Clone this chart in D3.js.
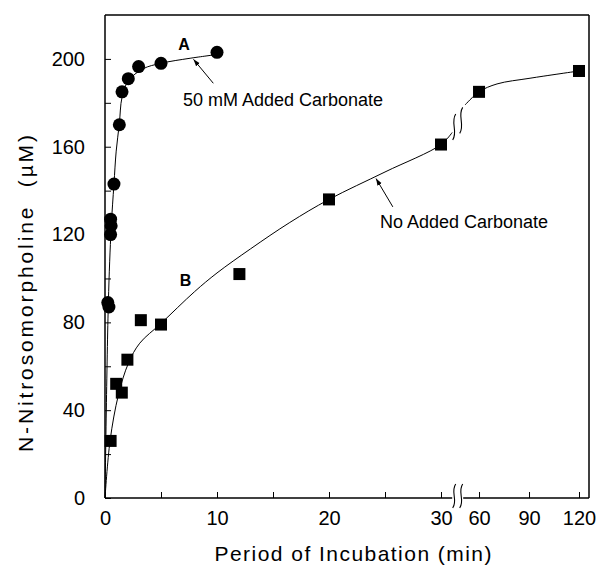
<!DOCTYPE html>
<html>
<head>
<meta charset="utf-8">
<script src="https://cdn.jsdelivr.net/npm/d3@7"></script>
<style>
  body { margin: 0; background: white; }
  text { font-family: "Liberation Sans", Arial, Helvetica, sans-serif; fill: black; }
</style>
</head>
<body>
<svg id="chart" width="597" height="565"></svg>
<script>
// curve A: 50 mM added carbonate (circles)
var timeA = [0.25, 0.35, 0.5, 0.55, 0.5, 0.8, 1.28, 1.52, 2.08, 3, 5, 10];
var concA = [89, 87, 127, 124, 120, 143, 170, 185, 191, 196.5, 198, 203];

// curve B: no added carbonate (squares)
var timeB = [0.5, 1, 1.5, 2, 3.2, 5, 12, 20, 30, 60, 120];
var concB = [26, 52, 48, 63, 81, 79, 102, 136, 161, 185, 194.5];

// fitted lines
var fitTimeA = [0, 0.3, 0.55, 0.8, 1.0, 1.28, 1.52, 2.08, 3.4, 5, 7.6, 10];
var fitConcA = [0, 89, 123, 143, 158, 170.5, 182.5, 190, 195.5, 198, 200.3, 202];
var fitTimeB1 = [0, 0.45, 1.2, 2.1, 3.1, 5, 8, 10, 13, 16.5, 20, 25, 30, 31];
var fitConcB1 = [0, 26, 47, 61.5, 70.5, 79.5, 94, 102.5, 113.5, 125.5, 136, 148.5, 161, 166.5];
var fitTimeB2 = [51.6, 60, 70.8, 90.6, 120];
var fitConcB2 = [179, 185, 188.6, 191.2, 194.5];

var xTicks = [0, 5, 10, 15, 20, 25, 30, 60, 90, 120];
var xLabels = [0, 10, 20, 30, 60, 90, 120];
var yTicks = [0, 20, 40, 60, 80, 100, 120, 140, 160, 180, 200];
var yLabels = [0, 40, 80, 120, 160, 200];

var margin = {top: 15, right: 8, bottom: 67, left: 105},
    width = 597 - margin.left - margin.right,
    height = 565 - margin.top - margin.bottom;

// broken time axis: 0-31 min then 50.5-126 min
var x = d3.scaleLinear()
    .domain([0, 31, 50.5, 126])
    .range([0, 347.2, 358.2, width]);
var y = d3.scaleLinear().domain([0, 220]).range([height, 0]);

var svg = d3.select("#chart").append("g")
    .attr("transform", "translate(" + margin.left + "," + margin.top + ")");

svg.append("defs").append("marker")
    .attr("id", "head")
    .attr("viewBox", "0 0 10 10")
    .attr("refX", 10).attr("refY", 5)
    .attr("markerWidth", 7).attr("markerHeight", 7)
    .attr("orient", "auto")
  .append("path")
    .attr("d", "M0,1.5L10,5L0,8.5Z")
    .attr("fill", "black");

function toPts(xs, ys) {
  return xs.map(function(d, i) { return [d, ys[i]]; });
}

var line = d3.line()
    .x(function(d) { return x(d[0]); })
    .y(function(d) { return y(d[1]); })
    .curve(d3.curveCatmullRom.alpha(0.5));

//axes with inward ticks
function drawAxes() {
  svg.append("g")
      .attr("transform", "translate(0," + height + ")")
      .call(d3.axisBottom(x).tickValues(xTicks).tickSizeInner(-6).tickSizeOuter(0).tickPadding(13)
        .tickFormat(function(d) { return xLabels.indexOf(d) >= 0 ? d : ""; }))
      .call(function(g) { g.select(".domain").remove(); })
      .selectAll("text").style("font-size", "20px");

  svg.append("g")
      .call(d3.axisLeft(y).tickValues(yTicks).tickSizeInner(-6).tickSizeOuter(0).tickPadding(20)
        .tickFormat(function(d) { return yLabels.indexOf(d) >= 0 ? d : ""; }))
      .call(function(g) { g.select(".domain").remove(); })
      .selectAll("text").style("font-size", "20px");

  svg.selectAll(".tick line").attr("stroke", "black");

  // frame, bottom edge split at the break
  var frame = [
    [0, 0, 0, height], [0, 0, width, 0], [width, 0, width, height],
    [0, height, x(31), height], [x(50.5), height, width, height]
  ];
  svg.selectAll(".frame")
      .data(frame)
      .enter().append("line")
      .attr("class", "frame")
      .attr("x1", function(d) { return d[0]; })
      .attr("y1", function(d) { return d[1]; })
      .attr("x2", function(d) { return d[2]; })
      .attr("y2", function(d) { return d[3]; })
      .attr("stroke", "black")
      .attr("stroke-width", 1.5);
}

//little wavy break marks
function squiggle(cx, cy, h) {
  return "M" + (cx + 1.5) + "," + (cy - h / 2) +
    "C" + (cx - 4) + "," + (cy - h / 6) + " " + (cx + 4) + "," + (cy + h / 6) + " " +
    (cx - 1.5) + "," + (cy + h / 2);
}

function drawBreaks() {
  var bx = (x(31) + x(50.5)) / 2;
  [[bx - 3.5, height - 2, 24], [bx + 3.5, height - 2, 24],
   [bx - 3.5, y(169), 26], [bx + 3.5, y(172), 26]].forEach(function(s) {
    svg.append("path")
        .attr("d", squiggle(s[0], s[1], s[2]))
        .attr("fill", "none")
        .attr("stroke", "black")
        .attr("stroke-width", 1.1);
  });
}

function drawLines() {
  [toPts(fitTimeA, fitConcA), toPts(fitTimeB1, fitConcB1), toPts(fitTimeB2, fitConcB2)]
    .forEach(function(pts) {
      svg.append("path")
          .attr("d", line(pts))
          .attr("fill", "none")
          .attr("stroke", "black")
          .attr("stroke-width", 1);
    });
}

function drawPoints() {
  svg.selectAll(".dot")
      .data(toPts(timeA, concA))
      .enter().append("circle")
      .attr("class", "dot")
      .attr("cx", function(d) { return x(d[0]); })
      .attr("cy", function(d) { return y(d[1]); })
      .attr("r", 6.5)
      .attr("fill", "black");

  svg.selectAll(".sq")
      .data(toPts(timeB, concB))
      .enter().append("rect")
      .attr("class", "sq")
      .attr("x", function(d) { return x(d[0]) - 6; })
      .attr("y", function(d) { return y(d[1]) - 6; })
      .attr("width", 12)
      .attr("height", 12)
      .attr("fill", "black");
}

function drawNotes() {
  // arrows [fromT, fromC, toT, toC]
  [[9.67, 188.9, 7.9, 199.8], [25.7, 132.6, 24.2, 145.5]].forEach(function(a) {
    svg.append("line")
        .attr("x1", x(a[0])).attr("y1", y(a[1]))
        .attr("x2", x(a[2])).attr("y2", y(a[3]))
        .attr("stroke", "black")
        .attr("stroke-width", 1)
        .attr("marker-end", "url(#head)");
  });

  svg.append("text").attr("x", x(7.05)).attr("y", y(204))
      .attr("text-anchor", "middle").style("font-size", "16px").style("font-weight", "bold").text("A");
  svg.append("text").attr("x", x(7.2)).attr("y", y(96.6))
      .attr("text-anchor", "middle").style("font-size", "16px").style("font-weight", "bold").text("B");
  svg.append("text").attr("x", x(6.96)).attr("y", y(178.6))
      .style("font-size", "18px").text("50 mM Added Carbonate");
  svg.append("text").attr("x", x(24.55)).attr("y", y(123))
      .style("font-size", "18px").text("No Added Carbonate");

  svg.append("text")
      .attr("x", 248).attr("y", height + 63)
      .attr("text-anchor", "middle")
      .attr("textLength", 277)
      .style("font-size", "21px")
      .text("Period of Incubation (min)");

  svg.append("text")
      .attr("transform", "translate(" + (33 - margin.left) + "," + (293.5 - margin.top) + ") rotate(-90)")
      .attr("text-anchor", "middle")
      .attr("textLength", 317)
      .style("font-size", "21px")
      .style("white-space", "pre")
      .text("N-Nitrosomorpholine  (\u00b5M)");
}

drawAxes();
drawLines();
drawPoints();
drawBreaks();
drawNotes();
</script>
</body>
</html>
